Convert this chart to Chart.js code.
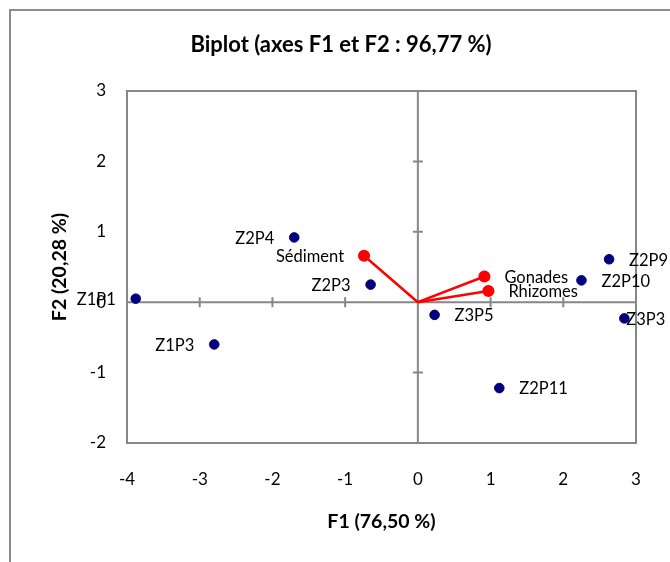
<!DOCTYPE html>
<html>
<head>
<meta charset="utf-8">
<script src="https://cdn.jsdelivr.net/npm/chart.js@4.4.0/dist/chart.umd.min.js"></script>
<style>
html,body{margin:0;padding:0;background:#fff;}
#wrap{position:relative;width:670px;height:562px;}
canvas{display:block;}
</style>
</head>
<body>
<div id="wrap"><canvas id="c" width="670" height="562"></canvas></div>
<script>
// ---- data ----
const obsLabels = ['Z1P1','Z1P3','Z2P3','Z2P4','Z2P9','Z2P10','Z2P11','Z3P3','Z3P5'];
const obsF1 = [-3.88,-2.80,-0.65,-1.70,2.63,2.25,1.12,2.84,0.23];
const obsF2 = [0.05,-0.60,0.25,0.92,0.61,0.31,-1.22,-0.23,-0.18];
const varLabels = ['Sédiment','Gonades','Rhizomes'];
const varF1 = [-0.74,0.915,0.97];
const varF2 = [0.66,0.365,0.16];
const xTicks = [-4,-3,-2,-1,0,1,2,3];
const yTicks = [-2,-1,0,1,2,3];
const titleText = 'Biplot (axes F1 et F2 : 96,77 %)';
const xTitle = 'F1 (76,50 %)';
const yTitle = 'F2 (20,28 %)';

// ---- label placement (style) ----
const leftSide = ['Z1P1','Z1P3','Z2P3','Z2P4','Sédiment'];
const specialOffset = { 'Z3P3': 2 };

const FONT = 'Lato';
const GRAY = '#878787';

const datasets = [{
  label: 'Observations',
  data: obsF1.map((v, i) => ({x: v, y: obsF2[i]})),
  backgroundColor: '#00007f',
  borderColor: '#00007f',
  pointRadius: 4.8,
  pointHoverRadius: 4.8,
  showLine: false,
  names: obsLabels
}];
varLabels.forEach((name, i) => {
  datasets.push({
    label: name,
    data: [{x: 0, y: 0}, {x: varF1[i], y: varF2[i]}],
    showLine: true,
    borderColor: '#ff0000',
    backgroundColor: '#ff0000',
    borderWidth: 2.5,
    pointRadius: [0, 4.8],
    pointHoverRadius: [0, 4.8],
    names: [null, name]
  });
});

const decor = {
  id: 'decor',
  beforeDraw(chart) {
    const {ctx} = chart;
    ctx.save();
    ctx.strokeStyle = '#8c8c8c';
    ctx.lineWidth = 2;
    ctx.beginPath();
    ctx.moveTo(10, 562); ctx.lineTo(10, 10); ctx.lineTo(670, 10);
    ctx.stroke();
    ctx.restore();
  },
  beforeDatasetsDraw(chart) {
    const {ctx, chartArea: a} = chart;
    const x = chart.scales.x, y = chart.scales.y;
    ctx.save();
    ctx.strokeStyle = GRAY;
    ctx.lineWidth = 2;
    ctx.strokeRect(a.left, a.top, a.right - a.left, a.bottom - a.top);
    const x0 = x.getPixelForValue(0), y0 = y.getPixelForValue(0);
    ctx.beginPath();
    ctx.moveTo(a.left, y0); ctx.lineTo(a.right, y0);
    ctx.moveTo(x0, a.top); ctx.lineTo(x0, a.bottom);
    xTicks.forEach(v => { if (v === 0) return; const p = x.getPixelForValue(v); ctx.moveTo(p, y0 - 5); ctx.lineTo(p, y0 + 5); });
    yTicks.forEach(v => { if (v === 0) return; const p = y.getPixelForValue(v); ctx.moveTo(x0 - 5, p); ctx.lineTo(x0 + 5, p); });
    ctx.stroke();
    ctx.restore();
  },
  afterDatasetsDraw(chart) {
    const {ctx} = chart;
    ctx.save();
    ctx.font = '16.5px ' + FONT;
    ctx.fillStyle = '#000';
    ctx.textBaseline = 'middle';
    chart.data.datasets.forEach((ds, di) => {
      const meta = chart.getDatasetMeta(di);
      meta.data.forEach((pt, i) => {
        const name = ds.names[i];
        if (!name) return;
        const off = specialOffset[name] !== undefined ? specialOffset[name] : 20;
        if (leftSide.includes(name)) {
          ctx.textAlign = 'right';
          ctx.fillText(name, pt.x - off, pt.y + 1);
        } else {
          ctx.textAlign = 'left';
          ctx.fillText(name, pt.x + off, pt.y + 1);
        }
      });
    });
    ctx.restore();
  }
};

new Chart(document.getElementById('c'), {
  type: 'scatter',
  data: { datasets },
  plugins: [decor],
  options: {
    responsive: false,
    animation: false,
    devicePixelRatio: 1,
    layout: { padding: { left: 12, right: 0, top: 0, bottom: 0 } },
    plugins: {
      legend: { display: false },
      tooltip: { enabled: false },
      title: {
        display: true,
        text: titleText,
        color: '#000',
        font: { family: FONT, size: 22, weight: 'bold' },
        padding: { top: 32, bottom: 32.6 }
      }
    },
    scales: {
      x: {
        type: 'linear', position: 'bottom', min: -4, max: 3,
        afterBuildTicks: s => { s.ticks = xTicks.map(v => ({value: v})); },
        afterFit: s => { s.height = 119; },
        grid: { display: false, drawTicks: false },
        border: { display: false },
        ticks: { color: '#000', font: { family: FONT, size: 17 }, padding: 26, maxRotation: 0, autoSkip: false },
        title: { display: true, text: xTitle, color: '#000', font: { family: FONT, size: 19.5, weight: 'bold' }, padding: { top: 0, bottom: 29 } }
      },
      y: {
        type: 'linear', position: 'left', min: -2, max: 3,
        afterBuildTicks: s => { s.ticks = yTicks.map(v => ({value: v})); },
        afterFit: s => { s.width = 115; },
        grid: { display: false, drawTicks: false },
        border: { display: false },
        ticks: { color: '#000', font: { family: FONT, size: 17 }, padding: 21, autoSkip: false },
        title: { display: true, text: yTitle, color: '#000', font: { family: FONT, size: 19.5, weight: 'bold' }, padding: { top: 36.5, bottom: 0 } }
      },
      y2: {
        type: 'linear', position: 'right', min: -2, max: 3,
        afterFit: s => { s.width = 34; },
        grid: { display: false, drawTicks: false },
        border: { display: false },
        ticks: { display: false }
      }
    }
  }
});
</script>
</body>
</html>
